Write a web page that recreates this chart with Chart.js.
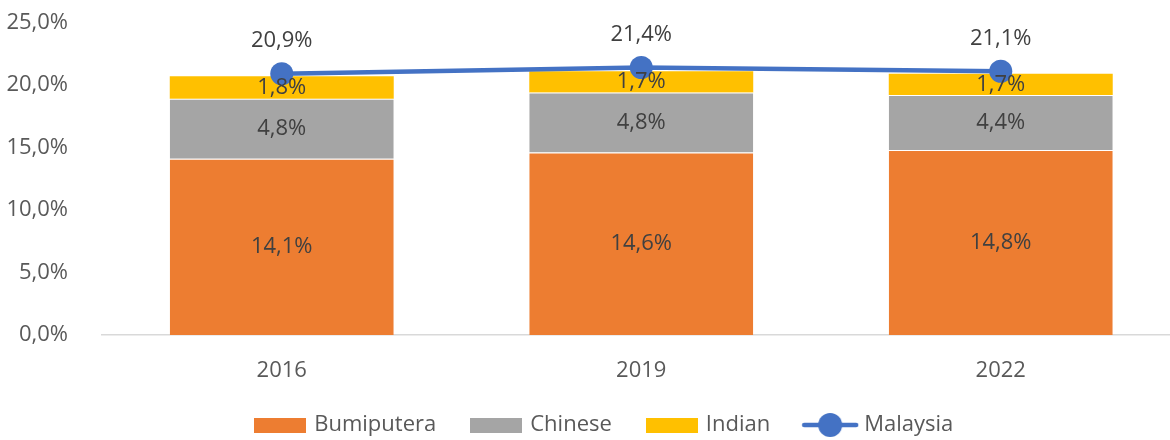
<!DOCTYPE html>
<html>
<head>
<meta charset="utf-8">
<script src="https://cdn.jsdelivr.net/npm/chart.js@4"></script>
<style>
  html,body{margin:0;padding:0;background:#fff;overflow:hidden;}
  #wrap{width:1170px;height:440px;overflow:hidden;}
</style>
</head>
<body>
<div id="wrap"><canvas id="c" width="1200" height="446"></canvas></div>
<script>
// data
const years      = ['2016', '2019', '2022'];
const bumiputera = [14.1, 14.6, 14.8];
const chinese    = [4.8, 4.8, 4.4];
const indian     = [1.8, 1.7, 1.7];
const malaysia   = [20.9, 21.4, 21.1];
const yMax = 25, yStep = 5;

const C_BUMI = '#ED7D31', C_CHN = '#A5A5A5', C_IND = '#FFC000', C_MY = '#4472C4';
const FONT = '"Open Sans", "Noto Sans", sans-serif';
const FS = 22;

const pct = (v)=> v.toFixed(1).replace('.', ',') + '%';

// legend swatches (a bit wider than the slot so the gap to the text is tight)
function boxSwatch(col){
  const c = document.createElement('canvas');
  c.width = 52; c.height = 15;
  const g = c.getContext('2d');
  g.fillStyle = col; g.fillRect(0, 0, 52, 15);
  return c;
}
function lineSwatch(col){
  const c = document.createElement('canvas');
  c.width = 58; c.height = 26;
  const g = c.getContext('2d');
  g.strokeStyle = col; g.lineWidth = 4.5; g.lineCap = 'round';
  g.beginPath(); g.moveTo(3, 13); g.lineTo(55, 13); g.stroke();
  g.fillStyle = col; g.beginPath(); g.arc(29, 13, 12, 0, Math.PI*2); g.fill();
  return c;
}

// value labels
const valueLabels = {
  id: 'valueLabels',
  afterDatasetsDraw(chart){
    const ctx = chart.ctx;
    ctx.save();
    ctx.font = FS + 'px ' + FONT;
    ctx.fillStyle = '#404040';
    ctx.textAlign = 'center';
    ctx.textBaseline = 'middle';
    chart.data.datasets.forEach((ds, i)=>{
      const meta = chart.getDatasetMeta(i);
      meta.data.forEach((el, j)=>{
        if(ds.type === 'line'){
          ctx.fillText(pct(ds.data[j]), el.x, el.y - 33);
        } else {
          ctx.fillText(pct(ds.data[j]), el.x, (el.y + el.base)/2);
        }
      });
    });
    ctx.restore();
  }
};

// nudge legend to the right (original chart is cropped on the right)
const legendShift = {
  id: 'legendShift',
  afterLayout(chart){
    if(chart.legend){ chart.legend.left += 15; chart.legend.right += 15; }
  }
};

new Chart(document.getElementById('c'), {
  data: {
    labels: years,
    datasets: [
      { type:'line', label:'Malaysia', data: malaysia, stack:'line', order:0,
        borderColor:C_MY, backgroundColor:C_MY, borderWidth:4.5,
        pointRadius:11.5, pointHoverRadius:11.5, pointBackgroundColor:C_MY, pointBorderWidth:0,
        tension:0 },
      { type:'bar', label:'Bumiputera', data: bumiputera, stack:'s', order:1,
        backgroundColor:C_BUMI, borderColor:'#fff', borderWidth:{top:1}, borderSkipped:false },
      { type:'bar', label:'Chinese', data: chinese, stack:'s', order:1,
        backgroundColor:C_CHN, borderColor:'#fff', borderWidth:{top:1}, borderSkipped:false },
      { type:'bar', label:'Indian', data: indian, stack:'s', order:1,
        backgroundColor:C_IND, borderColor:'#fff', borderWidth:{top:0}, borderSkipped:false }
    ]
  },
  options: {
    responsive:false,
    animation:false,
    devicePixelRatio:1,
    layout:{ autoPadding:false, padding:{ left:0, right:19.5, top:22.5, bottom:0 } },
    datasets:{ bar:{ categoryPercentage:1, barPercentage:0.623 } },
    scales:{
      x:{
        stacked:true,
        grid:{ display:false },
        border:{ display:true, color:'#D9D9D9', width:1.5 },
        ticks:{ color:'#595959', font:{ family:FONT, size:FS }, padding:15 },
        afterFit:(s)=>{ s.height = 42; }
      },
      y:{
        stacked:true, min:0, max:yMax,
        grid:{ display:false },
        border:{ display:false },
        ticks:{ stepSize:yStep, color:'#595959', font:{ family:FONT, size:FS }, padding:26,
                callback:(v)=>pct(v) },
        afterFit:(s)=>{ s.width = 102; s.paddingTop = 0; s.paddingBottom = 0; }
      }
    },
    plugins:{
      tooltip:{ enabled:false },
      legend:{
        position:'bottom',
        labels:{
          usePointStyle:true, pointStyleWidth:46, boxHeight:15,
          padding:37, color:'#595959', font:{ family:FONT, size:FS },
          generateLabels:(chart)=>{
            const order = [1,2,3,0];
            return order.map(i=>{
              const ds = chart.data.datasets[i];
              return {
                text: ds.label, datasetIndex:i, hidden:false,
                fontColor:'#595959', lineWidth:0, strokeStyle:'transparent',
                fillStyle: ds.type === 'line' ? C_MY : ds.backgroundColor,
                pointStyle: ds.type === 'line' ? lineSwatch(C_MY) : boxSwatch(ds.backgroundColor)
              };
            });
          }
        }
      }
    }
  },
  plugins:[valueLabels, legendShift]
});
</script>
</body>
</html>
